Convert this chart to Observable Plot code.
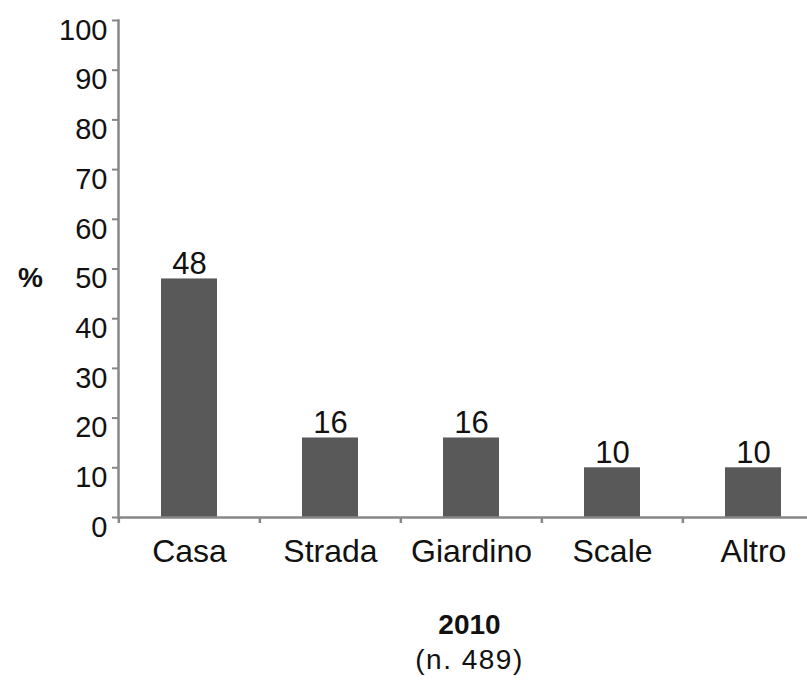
<!DOCTYPE html>
<html>
<head>
<meta charset="utf-8">
<script src="https://cdn.jsdelivr.net/npm/d3@7"></script>
<script src="https://cdn.jsdelivr.net/npm/@observablehq/plot@0.6"></script>
<style>
  html, body { margin: 0; padding: 0; background: #fff; }
  body { width: 807px; height: 680px; overflow: hidden; font-family: "Liberation Sans", Arial, sans-serif; }
  #chart svg { display: block; overflow: visible; }
  .t1 { text-align: center; width: 807px; padding-left: 132px; box-sizing: border-box; font-weight: bold; font-size: 28px; line-height: 32px; color: #111; margin-top: 19px; }
  .t2 { text-align: center; width: 807px; padding-left: 132px; box-sizing: border-box; font-size: 28px; letter-spacing: 1.5px; line-height: 32px; color: #111; margin-top: 3px; }
</style>
</head>
<body>
<div id="chart"></div>
<div class="t1">2010</div>
<div class="t2">(n. 489)</div>
<script>
const categories = ["Casa", "Strada", "Giardino", "Scale", "Altro"];
const values = [48, 16, 16, 10, 10];
const yTicks = [0, 10, 20, 30, 40, 50, 60, 70, 80, 90, 100];
const yLabel = "%";

const data = categories.map((c, i) => ({cat: c, value: values[i]}));
const axisColor = "#878787";
const barColor = "#595959";

const xRange = [118, 824.5];
const step = (xRange[1] - xRange[0]) / categories.length;

const chart = Plot.plot({
  width: 807,
  height: 590,
  marginTop: 20,
  marginBottom: 73,
  marginLeft: 118,
  marginRight: 0,
  style: {fontFamily: "'Liberation Sans', Arial, sans-serif", color: "#111", background: "#fff", overflow: "visible"},
  x: {domain: categories, range: xRange, paddingInner: 0.6, paddingOuter: 0.3, label: null},
  y: {domain: [0, 100], label: null},
  marks: [
    Plot.barY(data, {x: "cat", y: "value", fill: barColor}),
    Plot.text(data, {x: "cat", y: "value", text: d => String(d.value), lineAnchor: "bottom", dy: -5, fontSize: 31, fill: "#111"}),
    Plot.ruleY([0], {stroke: axisColor, strokeWidth: 2.5}),
    Plot.frame({anchor: "left", stroke: axisColor, strokeWidth: 2.5}),
    Plot.axisY({ticks: yTicks, tickSize: 6, text: null, stroke: axisColor, strokeWidth: 2}),
    Plot.axisY({ticks: yTicks, tickSize: 6, tickPadding: 5, dy: 10, fontSize: 29, stroke: "none", tickFormat: d => String(d), fill: "#111"}),
    Plot.axisX({tickSize: 6, dx: -step / 2, text: null, stroke: axisColor, strokeWidth: 2.5}),
    Plot.axisX({tickSize: 0, tickPadding: 22, fontSize: 32, fill: "#111"}),
    Plot.text([yLabel], {frameAnchor: "left", textAnchor: "middle", dx: -88, dy: 9, fontSize: 28, fontWeight: "bold", fill: "#111"})
  ]
});
document.getElementById("chart").appendChild(chart);
</script>
</body>
</html>
